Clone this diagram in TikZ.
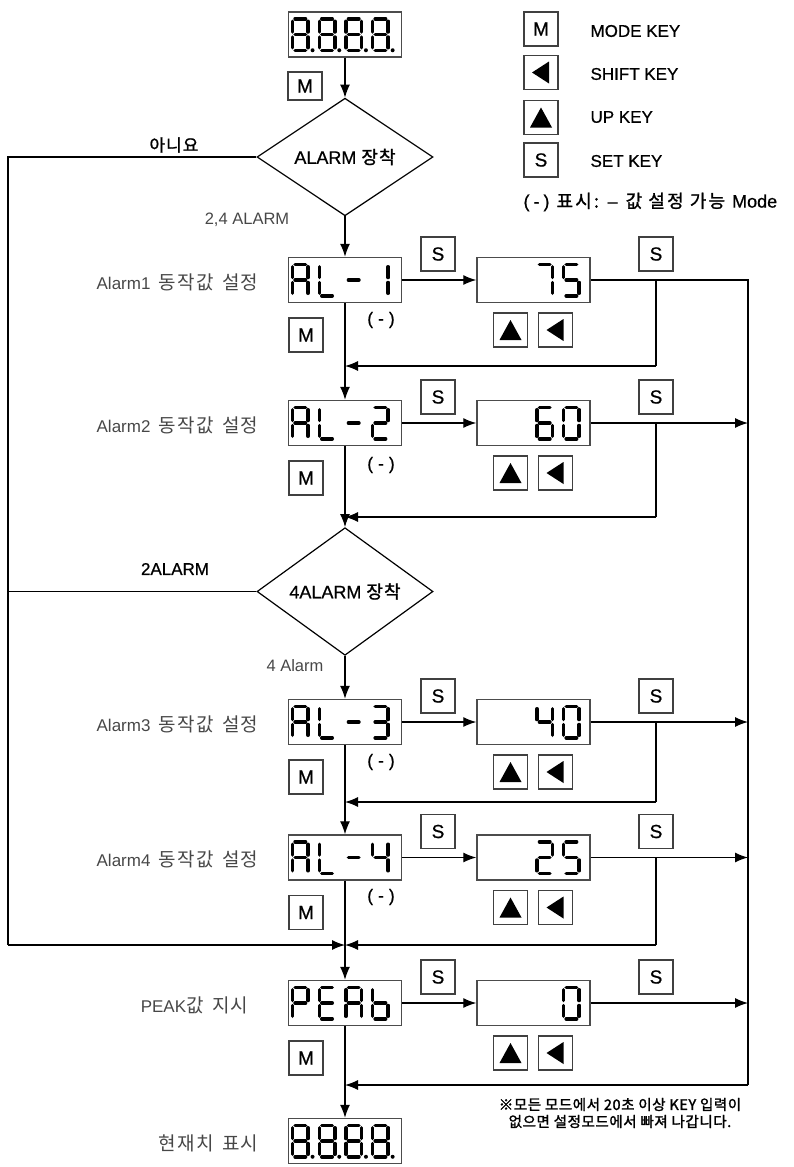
\documentclass[tikz,border=0pt]{standalone}
\usepackage{fontspec}
\setmainfont{Liberation Sans}
\newfontfamily\lsb{Liberation Sans}[FakeBold=0.7]
\newfontfamily\kr{Noto Sans CJK KR}[LetterSpace=7]
\newfontfamily\krm{Noto Sans CJK KR}[FakeBold=1.2,LetterSpace=6]
\newfontfamily\krw{Noto Sans CJK KR}[FakeBold=1.2,LetterSpace=12]
\newfontfamily\krb{Noto Sans CJK KR}[FakeBold=1.8,LetterSpace=4]
\usetikzlibrary{arrows.meta,shapes.geometric}

% seven-segment glyph: stroke centres span 15.5 x 31.5, y grows downward
\tikzset{
  sega/.style={insert path={(2.5,0)--(13,0)}},
  segb/.style={insert path={(15.5,2.5)--(15.5,13.25)}},
  segc/.style={insert path={(15.5,18.25)--(15.5,29)}},
  segd/.style={insert path={(2.5,31.5)--(13,31.5)}},
  sege/.style={insert path={(0,18.25)--(0,29)}},
  segf/.style={insert path={(0,2.5)--(0,13.25)}},
  segg/.style={insert path={(2.5,15.75)--(13,15.75)}},
  segline/.style={line width=3.5pt, line cap=round, draw=black},
  conn/.style={draw=black, line width=1.2pt},
  arr/.style={conn, -{Latex[length=13pt,width=10pt]}},
  disp/.style={draw=black!70, line width=1.4pt, minimum width=113pt,
    minimum height=45pt, inner sep=0pt},
  keybox/.style={draw=black!75, line width=1.2pt, minimum width=34pt,
    minimum height=34pt, inner sep=0pt, font=\lsb\fontsize{19}{19}\selectfont},
  decide/.style={diamond, draw=black, line width=1.2pt, minimum width=176pt,
    minimum height=90pt, inner sep=0pt, font=\lsb\fontsize{18}{18}\selectfont},
  rowlabel/.style={anchor=east, text=black!72, font=\fontsize{17}{17}\selectfont},
  tag/.style={font=\lsb\fontsize{17}{17}\selectfont},
  softtag/.style={text=black!72, font=\fontsize{16.5}{16.5}\selectfont},
  minus/.style={font=\lsb\fontsize{17.5}{17.5}\selectfont},
  legend/.style={anchor=west, font=\lsb\fontsize{17}{17}\selectfont},
}
% larger Hangul inside the row labels
\newcommand\hg[1]{{\kr\fontsize{19}{19}\selectfont #1}}

% \glyph{display node}{cell index 0..3}{segment letters}
\newcommand\glyph[3]{%
  \begin{scope}[shift={(#1.west)}, shift={({4.75+26.7*#2},-15.75)}]
    \foreach \s in {#3}{\edef\next{\noexpand\draw[segline] (0,0) [seg\s];}\next}
  \end{scope}}
% same, for the right-aligned value displays
\newcommand\vglyph[3]{%
  \begin{scope}[shift={(#1.west)}, shift={({7.25+26.7*#2},-15.75)}]
    \foreach \s in {#3}{\edef\next{\noexpand\draw[segline] (0,0) [seg\s];}\next}
  \end{scope}}
% decimal point after a cell
\newcommand\gdot[2]{%
  \begin{scope}[shift={(#1.west)}, shift={({4.75+26.7*#2},-15.75)}]
    \fill (20,31.5) circle[radius=2pt];
  \end{scope}}
\newcommand\alleights[1]{%
  \foreach \i in {0,1,2,3}{\glyph{#1}{\i}{a,b,c,d,e,f,g}\gdot{#1}{\i}}}

\begin{document}
\begin{tikzpicture}[x=1pt,y=-1pt]
\useasboundingbox (0,0) rectangle (793,1167);

% ---- legend ----
\node[keybox] (lgm) at (541,29) {M};
\node[keybox] (lgs) at (541,72.5) {};
\fill ([xshift=-9pt]lgs.center) -- ++(17,-11) -- ++(0,22) -- cycle;
\node[keybox] (lgu) at (541,117.5) {};
\fill ([yshift=10pt]lgu.center) -- ++(11,20) -- ++(-22,0) -- cycle;
\node[keybox] (lgt) at (541,160) {S};
\node[legend] at (587,31) {MODE KEY};
\node[legend] at (587,74) {SHIFT KEY};
\node[legend] at (587,117) {UP KEY};
\node[legend] at (587,161) {SET KEY};
\node[legend, font=\lsb\fontsize{18}{18}\selectfont] at (520,202)
  {(\hspace{4pt}-\hspace{4pt})\hspace{2pt} {\krw 표시:}\hspace{2pt} –\hspace{3pt} {\krw 값 설정 가능}\hspace{2pt} Mode};

% ---- main column ----
\node[disp] (top) at (345,34.5) {};
\alleights{top}
\node[keybox, minimum height=28pt] (mt) at (305,86) {M};

\node[decide] (d1) at (345,157) {ALARM {\krm 장착}};
\node[tag] at (174,145) {\krm 아니요};
\node[softtag] at (247,220) {2,4 ALARM};

% row displays
\node[disp] (al1) at (345,280) {};
\node[disp] (al2) at (345,423) {};
\node[decide] (d2) at (345,591.5) {4ALARM {\krm 장착}};
\node[disp] (al3) at (345,722) {};
\node[disp] (al4) at (345,857.5) {};
\node[disp] (pk) at (345,1003) {};
\node[disp] (bot) at (345,1141) {};
\alleights{bot}

\node[tag] at (175,569) {2ALARM};
\node[softtag] at (295,666) {4 Alarm};

% value displays
\node[disp] (v1) at (533.5,280) {};
\node[disp] (v2) at (533.5,423) {};
\node[disp] (v3) at (533.5,722) {};
\node[disp] (v4) at (533.5,857.5) {};
\node[disp] (v5) at (533.5,1003) {};

% glyphs: AL-n
\foreach \n in {al1,al2,al3,al4}{
  \glyph{\n}{0}{a,b,c,e,f,g}
  \glyph{\n}{1}{d,e,f}
  \glyph{\n}{2}{g}}
\glyph{al1}{3}{b,c}
\glyph{al2}{3}{a,b,g,e,d}
\glyph{al3}{3}{a,b,g,c,d}
\glyph{al4}{3}{f,g,b,c}
% PEAK
\glyph{pk}{0}{a,b,f,g,e}
\glyph{pk}{1}{a,f,g,e,d}
\glyph{pk}{2}{a,b,c,e,f,g}
\glyph{pk}{3}{f,e,g,c,d}
% values
\vglyph{v1}{2}{a,b,c}
\vglyph{v1}{3}{a,f,g,c,d}
\vglyph{v2}{2}{a,f,g,e,d,c}
\vglyph{v2}{3}{a,b,c,d,e,f}
\vglyph{v3}{2}{f,g,b,c}
\vglyph{v3}{3}{a,b,c,d,e,f}
\vglyph{v4}{2}{a,b,g,e,d}
\vglyph{v4}{3}{a,f,g,c,d}
\vglyph{v5}{3}{a,b,c,d,e,f}

% row labels
\node[rowlabel] at (262,282) {Alarm1\hspace{8pt}\hg{동작값\hspace{3pt} 설정}};
\node[rowlabel] at (262,425) {Alarm2\hspace{8pt}\hg{동작값\hspace{3pt} 설정}};
\node[rowlabel] at (262,724) {Alarm3\hspace{8pt}\hg{동작값\hspace{3pt} 설정}};
\node[rowlabel] at (262,859) {Alarm4\hspace{8pt}\hg{동작값\hspace{3pt} 설정}};
\node[rowlabel] at (252,1005) {PEAK\hg{값\hspace{3pt} 지시}};
\node[rowlabel] at (262,1143) {\hg{현재치\hspace{3pt} 표시}};

% minus-allowed marks
\foreach \y in {320,465,762,897}{\node[minus] at (381,\y) {(\hspace{5pt}-\hspace{5pt})};}

% keys per row
\foreach \n/\y in {1/280,2/423,3/722,4/857.5,5/1003}{
  \node[keybox] (sl\n) at (438,\y-26) {S};
  \node[keybox] (sr\n) at (656,\y-26) {S};
  \node[keybox] (m\n) at (306,\y+55) {M};
  \node[keybox] (u\n) at (510.5,\y+50) {};
  \node[keybox] (h\n) at (555.5,\y+50) {};
  \fill ([yshift=10pt]u\n.center) -- ++(11,20) -- ++(-22,0) -- cycle;
  \fill ([xshift=-9pt]h\n.center) -- ++(17,-11) -- ++(0,22) -- cycle;
}

% ---- connectors ----
\coordinate (lt) at (8,157);
\coordinate (l2) at (8,591.5);
\coordinate (lb) at (8,945);
\coordinate (j4) at (345,945);
\coordinate (rt) at (748,280);
\coordinate (rb) at (748,1085);
\coordinate (jb) at (345,1085);

\draw[arr] (top.south) -- (d1.north);
\draw[conn] (d1.west) -- (lt) -- (lb);
\draw[arr] (lb) -- (j4);
\draw[conn] (d2.west) -- (l2);
\draw[arr] (d1.south) -- (al1.north);
\draw[arr] (al1.south) -- (al2.north);
\draw[arr] (al2.south) -- (d2.north);
\draw[arr] (d2.south) -- (al3.north);
\draw[arr] (al3.south) -- (al4.north);
\draw[arr] (al4.south) -- (pk.north);
\draw[arr] (pk.south) -- (bot.north);

\foreach \a/\b in {al1/v1,al2/v2,al3/v3,al4/v4,pk/v5}{\draw[arr] (\a.east) -- (\b.west);}

% right exit line
\draw[conn] (v1.east) -- (rt) -- (rb);
\draw[arr] (rb) -- (jb);
\foreach \n/\y in {2/423,3/722,4/857.5,5/1003}{
  \coordinate (re\n) at (748,\y);
  \draw[arr] (v\n.east) -- (re\n);}

% return loops after each value
\foreach \n/\y/\r in {1/280/366,2/423/517,3/722/802,4/857.5/945}{
  \coordinate (ka\n) at (656,\y);
  \coordinate (kb\n) at (656,\r);
  \coordinate (kc\n) at (345,\r);
  \draw[conn] (ka\n) -- (kb\n);
  \draw[arr] (kb\n) -- (kc\n);}

% note
\node[font=\krb\fontsize{14.5}{17}\selectfont, align=center] at (620,1113)
  {※모든 모드에서 20초 이상 KEY 입력이\\없으면 설정모드에서 빠져 나갑니다.};
\end{tikzpicture}
\end{document}
